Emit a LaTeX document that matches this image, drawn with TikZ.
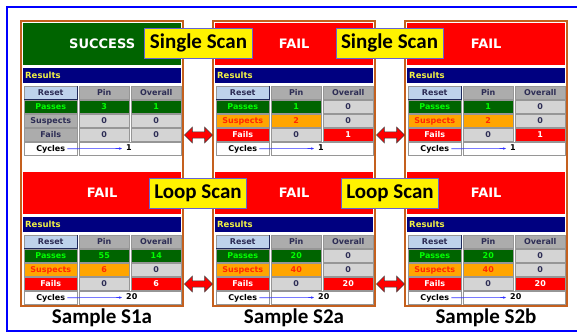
\documentclass[tikz,border=0pt]{standalone}
\usepackage{fontspec}
\setmainfont{DejaVu Sans}
\newfontfamily\labelfont{Carlito}
\usetikzlibrary{arrows.meta, shapes.arrows}

\definecolor{frameorange}{RGB}{196, 96, 30}
\definecolor{hdrgreen}{RGB}{0, 100, 0}
\definecolor{resnavy}{RGB}{0, 0, 128}
\definecolor{resyellow}{RGB}{240, 240, 70}
\definecolor{passbg}{RGB}{0, 100, 0}
\definecolor{passtext}{RGB}{0, 255, 0}
\definecolor{suspbg}{RGB}{255, 165, 0}
\definecolor{susptext}{RGB}{255, 40, 0}
\definecolor{greycell}{RGB}{212, 212, 212}
\definecolor{greylab}{RGB}{172, 172, 172}
\definecolor{greytext}{RGB}{45, 45, 85}
\definecolor{cellline}{RGB}{150, 150, 150}
\definecolor{resetblue}{RGB}{190, 210, 235}
\definecolor{resetdark}{RGB}{30, 40, 90}
\definecolor{labelframe}{RGB}{100, 100, 210}

\tikzset{
  panelframe/.style = {draw = frameorange, line width = 2.4pt, fill = white},
  headbox/.style = {anchor = north west, minimum width = 158pt, minimum height = 42pt, inner sep = 0pt, text = white, font = \bfseries\fontsize{13}{15}\selectfont},
  resbar/.style = {anchor = north west, fill = resnavy, text = resyellow, minimum height = 15pt, text width = 154pt, inner xsep = 2pt, inner ysep = 0pt, align = left, font = \bfseries\fontsize{8.5}{9}\selectfont},
  cell/.style = {draw = cellline, line width = 0.5pt, minimum height = 13pt, inner sep = 0pt, anchor = north west, text height = 6pt, text depth = 1.5pt, font = \bfseries\fontsize{8}{9}\selectfont},
  celltext/.style = {inner sep = 0pt, text height = 6pt, text depth = 1.5pt, font = \bfseries\fontsize{8}{9}\selectfont},
  cpass/.style = {fill = passbg, text = passtext},
  csusp/.style = {fill = suspbg, text = susptext},
  cfail/.style = {fill = red, text = white},
  cgrey/.style = {fill = greycell, text = greytext},
  cglab/.style = {fill = greylab, text = greytext},
  resetbtn/.style = {fill = resetblue, text = greytext},
  resetedge/.style = {draw = resetdark, line width = 1.2pt},
  cyclearrow/.style = {draw = blue!80, line width = 0.6pt, -{Stealth[length = 3pt, width = 2.5pt]}, shorten < = 2pt, shorten > = 4pt},
  scanlabel/.style = {fill = yellow, draw = labelframe, line width = 1pt, inner xsep = 5pt, inner ysep = 0pt, minimum height = 30pt, font = \labelfont\bfseries\fontsize{21}{24}\selectfont},
  samplelabel/.style = {font = \labelfont\bfseries\fontsize{21}{24}\selectfont},
  swaparrow/.style = {double arrow, fill = red, draw = black!75, line width = 0.6pt, minimum height = 28pt, inner sep = 2.8pt, double arrow head extend = 4.7pt},
  bluerule/.style = {draw = blue, line width = 2pt}
}

% #1 name, #2 left x, #3 top y, #4 header colour, #5 header text, #6 rows, #7 cycles
\newcommand{\scanpanel}[7]{%
  \node[headbox, fill = #4] (#1-head) at (#2 + 3, #3) {#5};
  \node[resbar] (#1-res) at (#2 + 3, #3 + 45) {Results};
  \node[cell, resetbtn, minimum width = 53pt] (#1-reset) at (#2 + 4, #3 + 63) {Reset};
  \draw[resetedge] (#1-reset.south west) -- (#1-reset.south east) -- (#1-reset.north east);
  \node[cell, cglab, minimum width = 50pt] (#1-pin) at (#2 + 59, #3 + 63) {Pin};
  \node[cell, cglab, minimum width = 50pt] (#1-all) at (#2 + 111, #3 + 63) {Overall};
  \foreach \rowname/\namestyle/\pinstyle/\pinval/\allstyle/\allval [count = \rownum] in {#6} {
    \node[cell, \namestyle, minimum width = 53pt] (#1-name\rownum) at (#2 + 4, #3 + 63 + 14*\rownum) {\rowname};
    \node[cell, \pinstyle, minimum width = 50pt] (#1-pin\rownum) at (#2 + 59, #3 + 63 + 14*\rownum) {\pinval};
    \node[cell, \allstyle, minimum width = 50pt] (#1-all\rownum) at (#2 + 111, #3 + 63 + 14*\rownum) {\allval};
  }
  \node[cell, fill = white, minimum width = 53pt] (#1-cyc) at (#2 + 4, #3 + 119) {};
  \node[celltext] (#1-cyctext) at (#1-cyc.center) {Cycles};
  \node[cell, fill = white, minimum width = 102pt] (#1-cycval) at (#2 + 59, #3 + 119) {};
  \node[celltext, anchor = west] (#1-count) at (#2 + 106, #3 + 125.5) {#7};
  \draw[cyclearrow] (#1-cyctext.east) -- (#1-count.west);
}

\begin{document}
\begin{tikzpicture}[x = 1pt, y = 1pt, yscale = -1, xscale = 1]
\useasboundingbox (0, 0) rectangle (577, 333);

\draw[bluerule] (577, 6.5) -- (6.5, 6.5) -- (6.5, 331) -- (577, 331);

\draw[panelframe] (21.2, 21.2) rectangle (182.8, 305.8);
\draw[panelframe] (213.2, 21.2) rectangle (374.8, 305.8);
\draw[panelframe] (405.2, 21.2) rectangle (566.8, 305.8);

% single scan
\scanpanel{s1a-single}{20}{23}{hdrgreen}{SUCCESS}{Passes/cpass/cpass/3/cpass/1, Suspects/cglab/cgrey/0/cgrey/0, Fails/cglab/cgrey/0/cgrey/0}{1}
\scanpanel{s2a-single}{212}{23}{red}{FAIL}{Passes/cpass/cpass/1/cgrey/0, Suspects/csusp/csusp/2/cgrey/0, Fails/cfail/cgrey/0/cfail/1}{1}
\scanpanel{s2b-single}{404}{23}{red}{FAIL}{Passes/cpass/cpass/1/cgrey/0, Suspects/csusp/csusp/2/cgrey/0, Fails/cfail/cgrey/0/cfail/1}{1}

% loop scan
\scanpanel{s1a-loop}{20}{172}{red}{FAIL}{Passes/cpass/cpass/55/cpass/14, Suspects/csusp/csusp/6/cgrey/0, Fails/cfail/cgrey/0/cfail/6}{20}
\scanpanel{s2a-loop}{212}{172}{red}{FAIL}{Passes/cpass/cpass/20/cgrey/0, Suspects/csusp/csusp/40/cgrey/0, Fails/cfail/cgrey/0/cfail/20}{20}
\scanpanel{s2b-loop}{404}{172}{red}{FAIL}{Passes/cpass/cpass/20/cgrey/0, Suspects/csusp/csusp/40/cgrey/0, Fails/cfail/cgrey/0/cfail/20}{20}

\node[scanlabel] (single12) at (198.5, 43) {Single Scan};
\node[scanlabel] (single23) at (389.5, 43) {Single Scan};
\node[scanlabel] (loop12) at (198, 193) {Loop Scan};
\node[scanlabel] (loop23) at (390, 193) {Loop Scan};

\node[swaparrow] (swap12a) at (198.5, 135) {};
\node[swaparrow] (swap23a) at (390.5, 135) {};
\node[swaparrow] (swap12b) at (198.5, 284) {};
\node[swaparrow] (swap23b) at (390.5, 284) {};

\node[samplelabel] (s1a) at (102, 318) {Sample S1a};
\node[samplelabel] (s2a) at (294, 318) {Sample S2a};
\node[samplelabel] (s2b) at (486, 318) {Sample S2b};
\end{tikzpicture}
\end{document}
